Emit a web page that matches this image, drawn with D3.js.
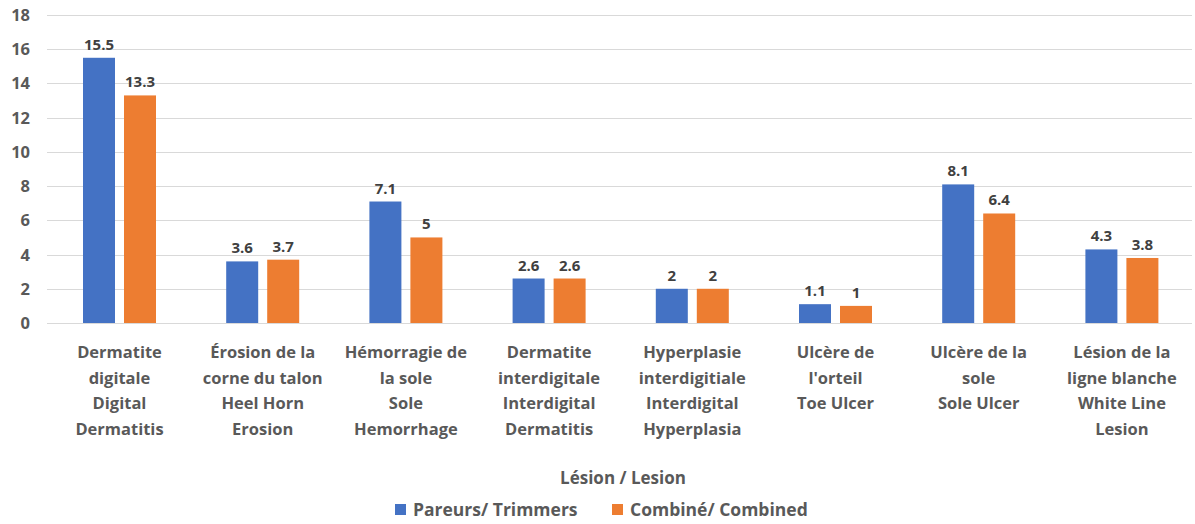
<html>
<head>
<meta charset="utf-8">
<script src="https://d3js.org/d3.v7.min.js"></script>
<style>
  body { margin: 0; background: white; }
  text { font-family: "Open Sans", "Liberation Sans", sans-serif; font-weight: bold; }
</style>
</head>
<body>
<script>
  var categories = [
    ["Dermatite", "digitale", "Digital", "Dermatitis"],
    ["Érosion de la", "corne du talon", "Heel Horn", "Erosion"],
    ["Hémorragie de", "la sole", "Sole", "Hemorrhage"],
    ["Dermatite", "interdigitale", "Interdigital", "Dermatitis"],
    ["Hyperplasie", "interdigitiale", "Interdigital", "Hyperplasia"],
    ["Ulcère de", "l'orteil", "Toe Ulcer"],
    ["Ulcère de la", "sole", "Sole Ulcer"],
    ["Lésion de la", "ligne blanche", "White Line", "Lesion"]
  ];
  var trimmers = [15.5, 3.6, 7.1, 2.6, 2, 1.1, 8.1, 4.3];
  var combined = [13.3, 3.7, 5, 2.6, 2, 1, 6.4, 3.8];
  var seriesNames = ["Pareurs/ Trimmers", "Combiné/ Combined"];
  var seriesColors = ["#4472C4", "#ED7D31"];
  var yTicks = [0, 2, 4, 6, 8, 10, 12, 14, 16, 18];

  var width = 1195, height = 524;
  var svg = d3.select("body").append("svg")
    .attr("width", width)
    .attr("height", height);

  var x = d3.scaleBand()
    .domain(d3.range(categories.length))
    .range([47.9, 1193.5]);

  var y = d3.scaleLinear()
    .domain([0, 18])
    .range([323, 15]);

  // gridlines
  svg.append("g").selectAll("line")
    .data(yTicks)
    .enter().append("line")
    .attr("x1", 47)
    .attr("x2", 1192)
    .attr("y1", function(d) { return Math.round(y(d)) + 0.5; })
    .attr("y2", function(d) { return Math.round(y(d)) + 0.5; })
    .style("stroke", "#d9d9d9")
    .style("stroke-width", 1);

  // y tick labels
  svg.append("g").selectAll("text")
    .data(yTicks)
    .enter().append("text")
    .attr("x", 30)
    .attr("y", function(d) { return y(d) + 6; })
    .attr("text-anchor", "end")
    .style("font-size", "16.5px")
    .style("fill", "#595959")
    .text(function(d) { return d; });

  var series = [trimmers, combined];
  var barW = 32, gap = 9;

  series.forEach(function(vals, s) {
    var off = s === 0 ? -gap / 2 - barW : gap / 2;
    var g = svg.append("g");
    g.selectAll("rect")
      .data(vals)
      .enter().append("rect")
      .attr("x", function(d, i) { return x(i) + x.bandwidth() / 2 + off; })
      .attr("y", function(d) { return y(d); })
      .attr("width", barW)
      .attr("height", function(d) { return y(0) - y(d); })
      .style("fill", seriesColors[s]);
    g.selectAll("text")
      .data(vals)
      .enter().append("text")
      .attr("x", function(d, i) { return x(i) + x.bandwidth() / 2 + off + barW / 2; })
      .attr("y", function(d) { return y(d) - 8; })
      .attr("text-anchor", "middle")
      .style("font-size", "15px")
      .style("fill", "#404040")
      .text(function(d) { return d; });
  });

  // category labels
  var cat = svg.append("g").selectAll("text")
    .data(categories)
    .enter().append("text")
    .attr("text-anchor", "middle")
    .attr("x", function(d, i) { return x(i) + x.bandwidth() / 2; })
    .attr("y", 358)
    .style("font-size", "16.5px")
    .style("fill", "#595959");
  cat.selectAll("tspan")
    .data(function(d) { return d; })
    .enter().append("tspan")
    .attr("x", function() { return d3.select(this.parentNode).attr("x"); })
    .attr("dy", function(d, i) { return i === 0 ? 0 : 25.5; })
    .text(function(d) { return d; });

  // axis title
  svg.append("text")
    .attr("x", 623)
    .attr("y", 484)
    .attr("text-anchor", "middle")
    .style("font-size", "17px")
    .style("fill", "#595959")
    .text("Lésion / Lesion");

  // legend
  var legendX = [395, 612];
  var leg = svg.append("g").selectAll("g")
    .data(seriesNames)
    .enter().append("g")
    .attr("transform", function(d, i) { return "translate(" + legendX[i] + ",504)"; });
  leg.append("rect")
    .attr("width", 11)
    .attr("height", 11)
    .style("fill", function(d, i) { return seriesColors[i]; });
  leg.append("text")
    .attr("x", 18)
    .attr("y", 12)
    .style("font-size", "17.5px")
    .style("fill", "#595959")
    .text(function(d) { return d; });
</script>
</body>
</html>
